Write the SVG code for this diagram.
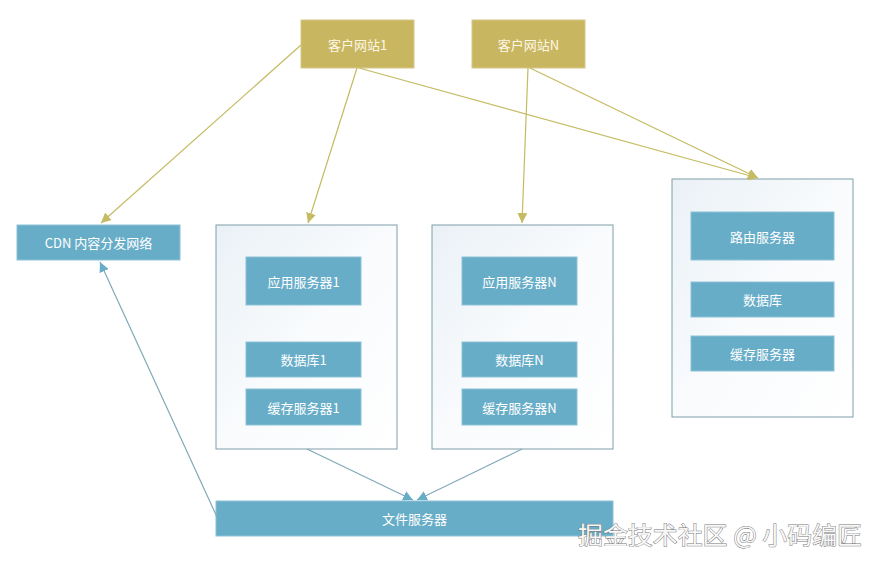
<svg xmlns="http://www.w3.org/2000/svg" width="881" height="567" viewBox="0 0 881 567">
<defs>
<linearGradient id="cg" x1="0" y1="0" x2="1" y2="1">
<stop offset="0" stop-color="#eaf1f6"/>
<stop offset="0.5" stop-color="#f9fbfd"/>
<stop offset="1" stop-color="#ffffff"/>
</linearGradient>
<marker id="ao" viewBox="0 0 10 10" refX="10" refY="5" markerWidth="10" markerHeight="10" markerUnits="userSpaceOnUse" orient="auto">
<path d="M0,0 L10,5 L0,10 z" fill="#c4bb62"/>
</marker>
<marker id="ab" viewBox="0 0 10 10" refX="10" refY="5" markerWidth="10" markerHeight="10" markerUnits="userSpaceOnUse" orient="auto">
<path d="M0,0 L10,5 L0,10 z" fill="#67adc8"/>
</marker>
</defs>
<style>
.site{fill:#c9b660;stroke:#d6c888;stroke-width:1}
.blue{fill:#68adc8;stroke:#8cc2d6;stroke-width:1}
.cont{fill:url(#cg);stroke:#7f9ea9;stroke-width:1}
.t{font-family:"Noto Sans CJK SC","Liberation Sans",sans-serif;font-size:13px;fill:#ffffff;text-anchor:middle;dominant-baseline:central}
.ts{fill:#fdf8e6}
.eo{fill:none;stroke:#c4bb62;stroke-width:1.2;marker-end:url(#ao)}
.eb{fill:none;stroke:#7fa9b8;stroke-width:1.2;marker-end:url(#ab)}
.wm{font-family:"Noto Sans CJK SC","Liberation Sans",sans-serif;font-size:24px;fill:#f7f7f7;stroke:#777;stroke-width:0.9;paint-order:stroke}
</style>
<rect width="881" height="567" fill="#ffffff"/>
<g id="site1"><rect class="site" x="301" y="20" width="113" height="48"/><text class="t ts" x="357.5" y="44">客户网站1</text></g>
<g id="siteN"><rect class="site" x="472" y="20" width="113" height="48"/><text class="t ts" x="528.5" y="44">客户网站N</text></g>
<g id="cdn"><rect class="blue" x="17" y="225" width="163" height="35"/><text class="t" x="98.5" y="242.5">CDN 内容分发网络</text></g>
<g id="group1">
<rect class="cont" x="216" y="225" width="181" height="224"/>
<g id="app1"><rect class="blue" x="246" y="257" width="115" height="48"/><text class="t" x="303.5" y="281">应用服务器1</text></g>
<g id="db1"><rect class="blue" x="246" y="342" width="115" height="35"/><text class="t" x="303.5" y="359.5">数据库1</text></g>
<g id="cache1"><rect class="blue" x="246" y="389" width="115" height="36"/><text class="t" x="303.5" y="407">缓存服务器1</text></g>
</g>
<g id="groupN">
<rect class="cont" x="432" y="225" width="181" height="224"/>
<g id="appN"><rect class="blue" x="462" y="257" width="115" height="48"/><text class="t" x="519.5" y="281">应用服务器N</text></g>
<g id="dbN"><rect class="blue" x="462" y="342" width="115" height="35"/><text class="t" x="519.5" y="359.5">数据库N</text></g>
<g id="cacheN"><rect class="blue" x="462" y="389" width="115" height="36"/><text class="t" x="519.5" y="407">缓存服务器N</text></g>
</g>
<g id="groupR">
<rect class="cont" x="672" y="179" width="181" height="238"/>
<g id="router"><rect class="blue" x="691" y="212" width="143" height="48"/><text class="t" x="762.5" y="236">路由服务器</text></g>
<g id="dbR"><rect class="blue" x="691" y="282" width="143" height="35"/><text class="t" x="762.5" y="299.5">数据库</text></g>
<g id="cacheR"><rect class="blue" x="691" y="336" width="143" height="35"/><text class="t" x="762.5" y="353.5">缓存服务器</text></g>
</g>
<g id="fileserver"><rect class="blue" x="216" y="501" width="397" height="35"/><text class="t" x="414.5" y="518.5">文件服务器</text></g>
<g id="connectors">
<path class="eo" d="M301,45 L101,223"/>
<path class="eo" d="M357,68 L308,223"/>
<path class="eo" d="M359,68 L758,178"/>
<path class="eo" d="M528,68 L522,223"/>
<path class="eo" d="M530,68 L758,178"/>
<path class="eb" d="M307,449 L413,500"/>
<path class="eb" d="M522,449 L417,500"/>
<path class="eb" d="M217,517 L100,262"/>
</g>
<text class="wm" x="578" y="544" textLength="284" lengthAdjust="spacingAndGlyphs">掘金技术社区 @ 小码编匠</text>
</svg>
